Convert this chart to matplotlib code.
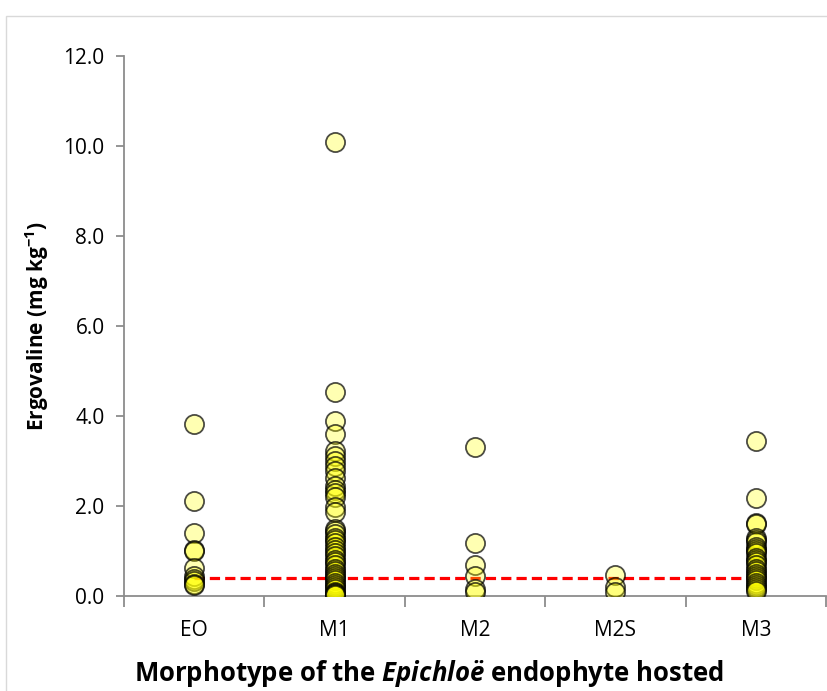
import numpy as np
import matplotlib.pyplot as plt
from matplotlib.patches import Rectangle

# Ergovaline concentration (mg/kg) per sample, grouped by endophyte morphotype
morphotypes = ["EO", "M1", "M2", "M2S", "M3"]

eo_vals = [3.82, 2.12, 1.40, 1.03, 1.01, 0.62, 0.45, 0.38, 0.33, 0.27, 0.24]
m1_vals = [10.10, 4.53, 3.88, 3.60, 3.22, 3.12, 3.00, 2.90, 2.78, 2.63, 2.45,
           2.35, 2.28, 2.20, 1.98, 1.86, 1.50, 1.45, 1.38, 1.30, 1.25, 1.18,
           1.10, 1.02, 0.95, 0.88, 0.80, 0.75, 0.68, 0.60, 0.55, 0.50, 0.45,
           0.40, 0.35, 0.30, 0.25, 0.20, 0.15, 0.10, 0.07, 0.04, 0.02]
m2_vals = [3.32, 1.18, 0.68, 0.45, 0.15, 0.08]
m2s_vals = [0.47, 0.20, 0.10]
m3_vals = [3.45, 2.18, 1.63, 1.60, 1.30, 1.25, 1.20, 1.10, 1.05, 1.00, 0.95,
           0.85, 0.80, 0.75, 0.70, 0.60, 0.55, 0.50, 0.45, 0.40, 0.35, 0.30,
           0.25, 0.20, 0.15, 0.12]
groups = [eo_vals, m1_vals, m2_vals, m2s_vals, m3_vals]

threshold = 0.4  # reference level drawn as dashed line

plt.rcParams['font.family'] = ['Open Sans', 'DejaVu Sans']
plt.rcParams['mathtext.fontset'] = 'custom'
plt.rcParams['mathtext.it'] = 'Open Sans:italic:bold'
plt.rcParams['mathtext.rm'] = 'Open Sans:bold'
plt.rcParams['mathtext.bf'] = 'Open Sans:bold'

axis_grey = '#8c8c8c'

fig = plt.figure(figsize=(8.28, 6.91), dpi=100)
ax = fig.add_axes([124 / 828, 1 - 596 / 691, 702 / 828, 540 / 691])

# chart-area frame
fig.patches.append(Rectangle((6 / 828, -0.1), 1.2, 1 - 16 / 691 + 0.1,
                             transform=fig.transFigure, fill=False,
                             edgecolor='#d9d9d9', linewidth=1.0, zorder=0))

for i, vals in enumerate(groups):
    x = np.full(len(vals), i + 1)
    ax.scatter(x, vals, s=190, facecolor=(1.0, 1.0, 0.0, 0.3),
               edgecolor=(0.0, 0.0, 0.0, 0.7), linewidth=1.3, zorder=3)

ax.plot([1, len(morphotypes)], [threshold, threshold], color='#ff0000',
        linestyle=(0, (3.2, 1.6)), linewidth=2.3, zorder=2)

ax.set_xlim(0.5, len(morphotypes) + 0.5)
ax.set_ylim(0, 12)
ax.set_yticks(np.arange(0, 12.1, 2))
ax.set_yticklabels([f'{v:.1f}' for v in np.arange(0, 12.1, 2)])

# category boundaries get tick marks, names sit between them
ax.set_xticks(np.arange(0.5, len(morphotypes) + 1, 1))
ax.set_xticklabels([])
ax.set_xticks(np.arange(1, len(morphotypes) + 1), minor=True)
ax.set_xticklabels(morphotypes, minor=True)
ax.tick_params(axis='x', which='major', length=8, width=1.3, color=axis_grey)
ax.tick_params(axis='x', which='minor', length=0, pad=17, labelsize=15)
ax.tick_params(axis='y', length=6, width=1.3, color=axis_grey, pad=8,
               labelsize=15)

for side in ['top', 'right']:
    ax.spines[side].set_visible(False)
for side in ['left', 'bottom']:
    ax.spines[side].set_color(axis_grey)
    ax.spines[side].set_linewidth(1.3)

ax.set_ylabel(r'Ergovaline (mg kg$^{\mathbf{-1}}$)', fontsize=15,
              fontweight='bold')
ax.yaxis.set_label_coords(-0.104, 0.5)
ax.set_xlabel(r'Morphotype of the $\mathit{Epichloë}$ endophyte hosted',
              fontsize=18.5, fontweight='bold')
ax.xaxis.set_label_coords(0.434, -0.114)

fig.savefig('out.png', dpi=100)
